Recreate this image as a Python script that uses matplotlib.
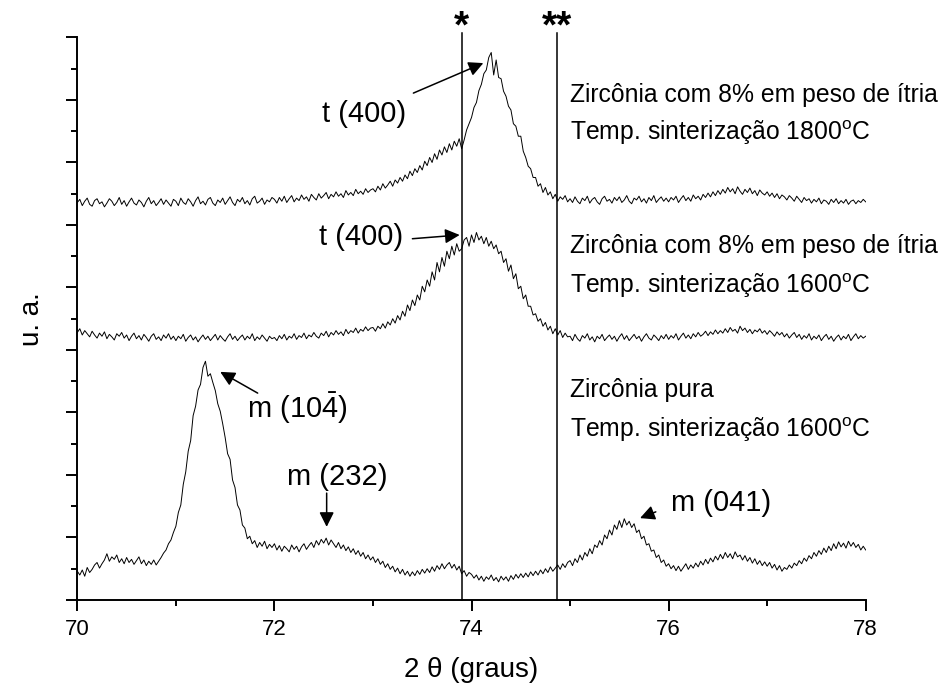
import numpy as np
import matplotlib
matplotlib.use("Agg")
import matplotlib.pyplot as plt
from matplotlib.ticker import MultipleLocator, NullFormatter

plt.rcParams['font.family'] = ['Liberation Sans', 'DejaVu Sans']
plt.rcParams['mathtext.fontset'] = 'custom'
plt.rcParams['mathtext.rm'] = 'Liberation Sans'
plt.rcParams['mathtext.it'] = 'Liberation Sans:italic'
plt.rcParams['mathtext.bf'] = 'Liberation Sans:bold'

# 2-theta scan grid (degrees), 0.025 deg step
two_theta = np.linspace(70.0, 78.0, 321)

# Zirconia + 8 wt% yttria, sintered at 1800 C (offset trace)
ysz_1800 = [
    6.36, 6.41, 6.31, 6.38, 6.43, 6.33, 6.30, 6.39, 6.42, 6.34, 6.37, 6.29, 6.35, 6.42, 6.38, 6.31, 6.36, 6.44, 6.33, 6.39,
    6.30, 6.37, 6.43, 6.35, 6.32, 6.40, 6.36, 6.29, 6.38, 6.44, 6.34, 6.39, 6.31, 6.36, 6.42, 6.33, 6.40, 6.35, 6.30, 6.41,
    6.38, 6.31, 6.43, 6.36, 6.33, 6.42, 6.37, 6.30, 6.39, 6.45, 6.34, 6.38, 6.32, 6.41, 6.44, 6.35, 6.31, 6.40, 6.36, 6.43,
    6.33, 6.39, 6.45, 6.36, 6.31, 6.41, 6.37, 6.44, 6.34, 6.39, 6.32, 6.42, 6.46, 6.35, 6.38, 6.43, 6.33, 6.40, 6.37, 6.44,
    6.41, 6.35, 6.44, 6.38, 6.46, 6.36, 6.42, 6.47, 6.37, 6.43, 6.39, 6.48, 6.41, 6.45, 6.38, 6.49, 6.44, 6.40, 6.50, 6.43,
    6.47, 6.52, 6.42, 6.49, 6.45, 6.53, 6.46, 6.50, 6.44, 6.55, 6.48, 6.52, 6.47, 6.57, 6.50, 6.54, 6.49, 6.58, 6.52, 6.56,
    6.58, 6.53, 6.62, 6.56, 6.66, 6.59, 6.64, 6.70, 6.62, 6.72, 6.67, 6.76, 6.70, 6.80, 6.74, 6.86, 6.79, 6.90, 6.84, 6.95,
    6.88, 7.02, 6.95, 7.08, 7.00, 7.14, 7.05, 7.20, 7.12, 7.25, 7.16, 7.30, 7.20, 7.34, 7.26, 7.38, 7.22, 7.36, 7.52, 7.62,
    7.72, 7.88, 7.96, 8.15, 8.25, 8.42, 8.48, 8.68, 8.76, 8.40, 8.64, 8.36, 8.34, 8.14, 8.06, 7.90, 7.84, 7.62, 7.58, 7.42,
    7.42, 7.18, 7.08, 6.94, 6.90, 6.76, 6.76, 6.62, 6.66, 6.52, 6.60, 6.48, 6.53, 6.42, 6.49, 6.38, 6.45, 6.41, 6.47, 6.37,
    6.42, 6.36, 6.45, 6.38, 6.34, 6.43, 6.39, 6.46, 6.35, 6.41, 6.44, 6.37, 6.33, 6.42, 6.46, 6.38, 6.41, 6.35, 6.44, 6.39,
    6.45, 6.36, 6.40, 6.47, 6.38, 6.34, 6.43, 6.40, 6.46, 6.37, 6.42, 6.35, 6.44, 6.39, 6.47, 6.36, 6.41, 6.45, 6.38, 6.43,
    6.37, 6.44, 6.40, 6.46, 6.36, 6.42, 6.47, 6.39, 6.44, 6.38, 6.48, 6.42, 6.46, 6.40, 6.49, 6.44, 6.51, 6.45, 6.53, 6.47,
    6.55, 6.49, 6.57, 6.51, 6.60, 6.53, 6.58, 6.50, 6.61, 6.54, 6.49, 6.57, 6.52, 6.59, 6.50, 6.55, 6.47, 6.56, 6.51, 6.48,
    6.53, 6.46, 6.51, 6.44, 6.50, 6.42, 6.48, 6.45, 6.40, 6.47, 6.43, 6.38, 6.46, 6.41, 6.36, 6.44, 6.39, 6.42, 6.35, 6.41,
    6.37, 6.43, 6.34, 6.40, 6.38, 6.33, 6.41, 6.36, 6.42, 6.34, 6.39, 6.35, 6.41, 6.33, 6.38, 6.40, 6.34, 6.39, 6.36, 6.41,
    6.37,
]

# Zirconia + 8 wt% yttria, sintered at 1600 C (offset trace)
ysz_1600 = [
    4.28, 4.34, 4.24, 4.31, 4.26, 4.21, 4.30, 4.24, 4.19, 4.27, 4.22, 4.29, 4.18, 4.25, 4.21, 4.16, 4.26, 4.22, 4.28, 4.19,
    4.24, 4.15, 4.22, 4.27, 4.18, 4.23, 4.16, 4.25, 4.20, 4.14, 4.22, 4.26, 4.17, 4.21, 4.15, 4.24, 4.19, 4.26, 4.17, 4.22,
    4.15, 4.22, 4.18, 4.25, 4.14, 4.20, 4.24, 4.16, 4.21, 4.13, 4.19, 4.24, 4.17, 4.22, 4.15, 4.20, 4.25, 4.16, 4.23, 4.18,
    4.14, 4.21, 4.26, 4.17, 4.22, 4.15, 4.20, 4.24, 4.16, 4.22, 4.18, 4.26, 4.15, 4.21, 4.17, 4.24, 4.19, 4.14, 4.22, 4.18,
    4.20, 4.15, 4.23, 4.18, 4.25, 4.16, 4.22, 4.19, 4.26, 4.17, 4.23, 4.20, 4.27, 4.18, 4.24, 4.21, 4.28, 4.22, 4.19, 4.27,
    4.23, 4.30, 4.21, 4.28, 4.24, 4.31, 4.25, 4.29, 4.23, 4.33, 4.26, 4.31, 4.28, 4.35, 4.27, 4.33, 4.30, 4.37, 4.31, 4.35,
    4.36, 4.30, 4.38, 4.34, 4.42, 4.35, 4.45, 4.40, 4.50, 4.43, 4.55, 4.48, 4.62, 4.54, 4.72, 4.63, 4.80, 4.71, 4.88, 4.80,
    5.02, 4.93, 5.12, 5.02, 5.25, 5.12, 5.40, 5.25, 5.48, 5.34, 5.58, 5.46, 5.66, 5.52, 5.70, 5.58, 5.62, 5.76, 5.80, 5.66,
    5.84, 5.72, 5.88, 5.76, 5.82, 5.70, 5.80, 5.66, 5.74, 5.62, 5.68, 5.54, 5.58, 5.40, 5.46, 5.26, 5.36, 5.14, 5.22, 4.98,
    5.02, 4.82, 4.88, 4.70, 4.70, 4.56, 4.58, 4.46, 4.50, 4.38, 4.44, 4.32, 4.38, 4.26, 4.34, 4.24, 4.31, 4.20, 4.27, 4.21,
    4.22, 4.15, 4.25, 4.18, 4.14, 4.23, 4.19, 4.26, 4.16, 4.21, 4.13, 4.22, 4.18, 4.25, 4.15, 4.20, 4.24, 4.17, 4.22, 4.14,
    4.21, 4.26, 4.17, 4.23, 4.15, 4.20, 4.25, 4.18, 4.22, 4.14, 4.21, 4.26, 4.19, 4.16, 4.24, 4.20, 4.15, 4.23, 4.18, 4.25,
    4.17, 4.23, 4.19, 4.26, 4.16, 4.22, 4.27, 4.19, 4.24, 4.18, 4.26, 4.21, 4.28, 4.22, 4.25, 4.30, 4.23, 4.29, 4.25, 4.32,
    4.26, 4.31, 4.27, 4.34, 4.28, 4.36, 4.30, 4.33, 4.27, 4.38, 4.31, 4.35, 4.28, 4.33, 4.26, 4.32, 4.29, 4.34, 4.27, 4.31,
    4.25, 4.31, 4.27, 4.22, 4.29, 4.24, 4.28, 4.21, 4.26, 4.19, 4.24, 4.28, 4.20, 4.25, 4.17, 4.23, 4.19, 4.26, 4.16, 4.22,
    4.18, 4.24, 4.15, 4.21, 4.25, 4.17, 4.22, 4.14, 4.20, 4.24, 4.16, 4.22, 4.18, 4.25, 4.15, 4.21, 4.26, 4.18, 4.23, 4.19,
    4.22,
]

# Pure zirconia, sintered at 1600 C
zro2_pure = [
    0.46, 0.40, 0.48, 0.38, 0.52, 0.44, 0.49, 0.56, 0.60, 0.51, 0.58, 0.64, 0.74, 0.62, 0.69, 0.65, 0.72, 0.60, 0.66, 0.58,
    0.68, 0.60, 0.65, 0.57, 0.63, 0.69, 0.58, 0.64, 0.55, 0.62, 0.57, 0.64, 0.56, 0.62, 0.68, 0.75, 0.80, 0.90, 0.96, 1.08,
    1.18, 1.40, 1.52, 1.85, 2.05, 2.38, 2.55, 2.95, 3.10, 3.36, 3.45, 3.72, 3.82, 3.58, 3.62, 3.48, 3.35, 3.14, 3.02, 2.82,
    2.60, 2.34, 2.25, 1.92, 1.80, 1.52, 1.44, 1.20, 1.15, 0.98, 1.02, 0.90, 0.95, 0.84, 0.92, 0.86, 0.94, 0.82, 0.89, 0.84,
    0.90, 0.80, 0.87, 0.78, 0.86, 0.82, 0.77, 0.88, 0.81, 0.86, 0.77, 0.85, 0.90, 0.81, 0.87, 0.92, 0.84, 0.95, 0.88, 0.97,
    0.91, 0.99, 0.88, 0.96, 0.90, 0.84, 0.92, 0.82, 0.88, 0.79, 0.85, 0.76, 0.82, 0.73, 0.79, 0.70, 0.76, 0.66, 0.72, 0.64,
    0.69, 0.60, 0.66, 0.57, 0.62, 0.52, 0.58, 0.49, 0.54, 0.45, 0.51, 0.42, 0.49, 0.40, 0.46, 0.38, 0.45, 0.39, 0.47, 0.41,
    0.49, 0.43, 0.50, 0.44, 0.53, 0.46, 0.55, 0.49, 0.58, 0.50, 0.56, 0.60, 0.51, 0.57, 0.48, 0.54, 0.42, 0.47, 0.38, 0.44,
    0.41, 0.35, 0.40, 0.32, 0.38, 0.30, 0.37, 0.33, 0.40, 0.31, 0.36, 0.29, 0.38, 0.32, 0.37, 0.30, 0.39, 0.33, 0.41, 0.35,
    0.42, 0.36, 0.43, 0.37, 0.45, 0.39, 0.46, 0.40, 0.48, 0.42, 0.50, 0.44, 0.53, 0.46, 0.51, 0.56, 0.49, 0.58, 0.52, 0.60,
    0.63, 0.55, 0.66, 0.60, 0.72, 0.64, 0.76, 0.70, 0.82, 0.74, 0.88, 0.84, 0.95, 0.88, 1.04, 0.98, 1.12, 1.04, 1.20, 1.13,
    1.27, 1.16, 1.30, 1.20, 1.26, 1.16, 1.22, 1.08, 1.12, 0.98, 1.02, 0.88, 0.90, 0.78, 0.80, 0.68, 0.72, 0.60, 0.64, 0.54,
    0.58, 0.50, 0.55, 0.47, 0.54, 0.46, 0.52, 0.58, 0.49, 0.56, 0.51, 0.59, 0.53, 0.62, 0.56, 0.65, 0.58, 0.67, 0.61, 0.70,
    0.64, 0.73, 0.66, 0.76, 0.68, 0.74, 0.66, 0.77, 0.69, 0.72, 0.64, 0.71, 0.62, 0.68, 0.59, 0.66, 0.57, 0.63, 0.55, 0.61,
    0.54, 0.60, 0.51, 0.57, 0.48, 0.55, 0.46, 0.52, 0.49, 0.56, 0.51, 0.59, 0.55, 0.63, 0.58, 0.67, 0.62, 0.71, 0.66, 0.76,
    0.70, 0.79, 0.73, 0.83, 0.76, 0.86, 0.79, 0.90, 0.82, 0.93, 0.85, 0.91, 0.83, 0.94, 0.86, 0.92, 0.84, 0.89, 0.80, 0.86,
    0.80,
]

# Reference positions marked with * and **
ref_positions = [73.90, 74.87]
ref_marks = ['*', '**']

# Sample descriptions (x, y baseline, text)
sample_labels = [
    (75.0, 7.97, 'Zircônia com 8% em peso de ítria'),
    (75.0, 7.36, 'Temp. sinterização 1800$^{\\mathrm{o}}$C'),
    (75.0, 5.55, 'Zircônia com 8% em peso de ítria'),
    (75.0, 4.91, 'Temp. sinterização 1600$^{\\mathrm{o}}$C'),
    (75.0, 3.25, 'Zircônia pura'),
    (75.0, 2.61, 'Temp. sinterização 1600$^{\\mathrm{o}}$C'),
]

# Peak labels: text, text centre, arrow tail, arrow head
peak_labels = [
    ('t (400)', (72.91, 7.78), (73.41, 8.11), (74.12, 8.59)),
    ('t (400)', (72.88, 5.81), (73.40, 5.78), (73.88, 5.84)),
    ('m (10$\\mathrm{\\bar{4}}$)', (72.23, 3.07), (71.83, 3.31), (71.45, 3.65)),
    ('m (232)', (72.64, 1.97), (72.53, 1.71), (72.53, 1.17)),
    ('m (041)', (76.53, 1.55), (75.87, 1.41), (75.71, 1.31)),
]

fig = plt.figure(figsize=(9.42, 6.85), dpi=100)
ax = fig.add_axes([0.0821, 0.1241, 0.8369, 0.8212])

for trace in (ysz_1800, ysz_1600, zro2_pure):
    ax.plot(two_theta, trace, color='black', lw=0.7)

for xr, mark in zip(ref_positions, ref_marks):
    ax.plot([xr, xr], [0, 9.07], color='black', lw=1.1, clip_on=False)
    ax.text(xr, 9.16, mark, ha='center', va='center', fontsize=28,
            fontweight='bold')

for xt, yt, txt in sample_labels:
    ax.text(xt, yt, txt, ha='left', va='baseline', fontsize=17.8)

for txt, tpos, tail, head in peak_labels:
    ax.text(tpos[0], tpos[1], txt, ha='center', va='center', fontsize=21)
    ax.annotate('', xy=head, xytext=tail,
                arrowprops=dict(arrowstyle='-|>', color='black', lw=1.1,
                                mutation_scale=22, shrinkA=0, shrinkB=0))

ax.set_xlim(70, 78)
ax.set_ylim(0, 9)
ax.xaxis.set_major_locator(MultipleLocator(2))
ax.xaxis.set_minor_locator(MultipleLocator(1))
ax.yaxis.set_major_locator(MultipleLocator(1))
ax.yaxis.set_minor_locator(MultipleLocator(0.5))
ax.yaxis.set_major_formatter(NullFormatter())

ax.spines['top'].set_visible(False)
ax.spines['right'].set_visible(False)
for side in ('left', 'bottom'):
    ax.spines[side].set_linewidth(1.4)

ax.tick_params(which='major', direction='out', length=8, width=1.4,
               labelsize=16, pad=6)
ax.tick_params(which='minor', direction='out', length=4.5, width=1.4)

ax.set_xlabel('2 θ (graus)', fontsize=20, labelpad=12)
ax.set_ylabel('u. a.', fontsize=20, labelpad=9)

fig.savefig('out.png', dpi=100)
